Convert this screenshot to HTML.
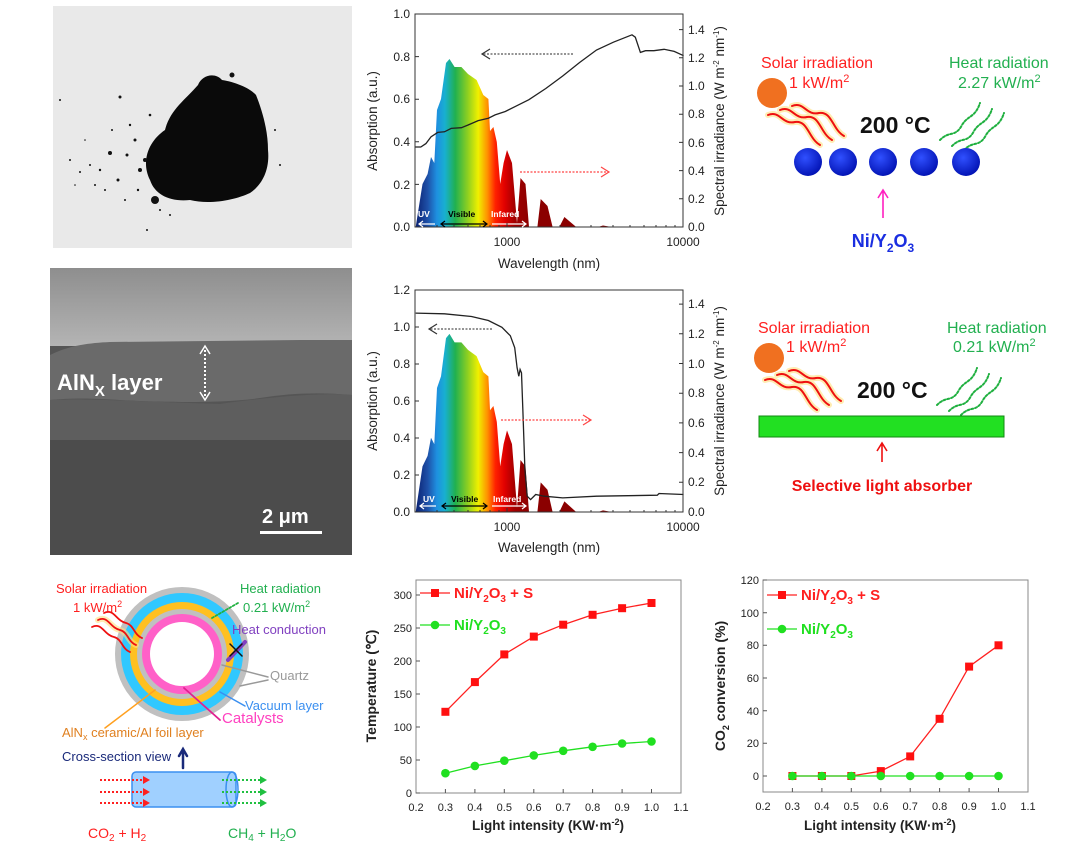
<!DOCTYPE html>
<html><head><meta charset="utf-8"><style>
html,body{margin:0;padding:0;background:#fff;}
svg{display:block;}
text{font-family:"Liberation Sans",sans-serif;}
</style></head><body>
<svg width="1080" height="846" viewBox="0 0 1080 846" xmlns="http://www.w3.org/2000/svg">
<defs>
<linearGradient id="spec" gradientUnits="userSpaceOnUse" x1="415" y1="0" x2="530" y2="0">
<stop offset="0" stop-color="#0a1f6e"/><stop offset="0.11" stop-color="#1e50a8"/><stop offset="0.19" stop-color="#1e90e0"/>
<stop offset="0.26" stop-color="#18b0d0"/><stop offset="0.35" stop-color="#20b050"/><stop offset="0.46" stop-color="#90d020"/>
<stop offset="0.55" stop-color="#f0f000"/><stop offset="0.63" stop-color="#ff9000"/><stop offset="0.70" stop-color="#ff2000"/>
<stop offset="0.78" stop-color="#e00000"/><stop offset="0.87" stop-color="#a00000"/><stop offset="1" stop-color="#8b0000"/>
</linearGradient>
<linearGradient id="semtop" x1="0" y1="0" x2="0" y2="1"><stop offset="0" stop-color="#8e8e8e"/><stop offset="1" stop-color="#b4b4b4"/></linearGradient>
<radialGradient id="ball" cx="0.4" cy="0.35" r="0.7"><stop offset="0" stop-color="#3050ff"/><stop offset="1" stop-color="#0010b0"/></radialGradient>
<path id="sp" d="M415.7,0 L422.5,-43 427.6,-53 431,-70 434.3,-64 437,-117 441,-128 446,-164 449.5,-168 454.6,-160 461.4,-160 468,-153 476.6,-147 483.3,-132 488.4,-128 490,-96 493.4,-100 496.8,-85 500.2,-43 503.6,-64 507,-77 512,-64 517,-4 520.5,-49 525.5,-43 529,0 537.4,0 540.7,-28 547.5,-21 552.6,0 559.3,0 564.4,-10 576.2,0 598,0 603,-1.5 611.7,0 Z"/>
</defs>

<!-- Photo -->
<rect x="53" y="6" width="299" height="242" fill="#e9e9e9"/>
<path d="M150,180 C140,160 150,140 165,130 C170,110 185,100 198,85 C202,75 215,72 222,80 C235,82 250,88 256,95 C262,110 268,130 268,150 C270,170 262,185 250,193 C235,200 210,205 190,200 C170,202 155,195 150,180 Z" fill="#0a0a0a"/>
<g fill="#111">
<circle cx="155" cy="200" r="4"/><circle cx="232" cy="75" r="2.5"/><circle cx="120" cy="97" r="1.5"/><circle cx="110" cy="153" r="2"/><circle cx="127" cy="155" r="1.5"/><circle cx="135" cy="140" r="1.5"/><circle cx="100" cy="170" r="1.2"/><circle cx="90" cy="165" r="1"/><circle cx="80" cy="172" r="1"/><circle cx="118" cy="180" r="1.5"/><circle cx="140" cy="170" r="2"/><circle cx="145" cy="160" r="2"/><circle cx="130" cy="125" r="1.2"/><circle cx="150" cy="115" r="1.3"/><circle cx="105" cy="190" r="1"/><circle cx="95" cy="185" r="1"/><circle cx="70" cy="160" r="1"/><circle cx="60" cy="100" r="1"/><circle cx="112" cy="130" r="1"/><circle cx="138" cy="190" r="1.2"/><circle cx="160" cy="210" r="1"/><circle cx="170" cy="215" r="1"/><circle cx="147" cy="230" r="1"/><circle cx="280" cy="165" r="1"/><circle cx="275" cy="130" r="1"/><circle cx="125" cy="200" r="1"/><circle cx="85" cy="140" r="0.8"/><circle cx="75" cy="185" r="0.8"/>
</g>

<!-- SEM -->
<rect x="50" y="268" width="302" height="287" fill="#555"/>
<rect x="50" y="268" width="302" height="78" fill="url(#semtop)"/>
<path d="M50,355 C70,345 90,343 110,342 L300,340 L352,340 L352,395 C320,392 290,393 260,398 C220,404 150,402 120,400 C90,398 70,398 50,400 Z" fill="#6a6a6a"/>
<path d="M50,400 C90,398 150,402 220,404 C260,398 320,392 352,395 L352,440 L50,440 Z" fill="#5e5e5e"/>
<rect x="50" y="440" width="302" height="115" fill="#4c4c4c"/>
<text x="57" y="390" fill="#fff" font-size="22" font-weight="bold">AlN<tspan font-size="15" dy="6">X</tspan><tspan dy="-6"> layer</tspan></text>
<line x1="205" y1="350" x2="205" y2="396" stroke="#fff" stroke-width="2" stroke-dasharray="2,2"/>
<path d="M200,354 L205,346 L210,354 M200,392 L205,400 L210,392" stroke="#fff" stroke-width="1.5" fill="none"/>
<text x="262" y="523" fill="#fff" font-size="20" font-weight="bold">2 μm</text>
<rect x="260" y="531" width="62" height="3" fill="#fff"/>

<!-- Top spectral chart -->
<g transform="translate(0,227)"><use href="#sp" fill="url(#spec)"/></g>
<polyline fill="none" stroke="#222" stroke-width="1.3" points="415,147 420.8,147 425.9,143.6 431,136.8 437.7,132.4 444.5,131.8 451.2,128.4 461.4,127.7 468.1,125 478.2,120.6 488.4,118.2 495.1,114.9 505.3,111.5 515.4,106.4 528.9,99.7 545.8,88.5 562.7,76 579.6,62.5 596.5,50 613.4,42.2 632,34.8 635.3,37.2 640.4,52.4 645.5,50.7 653.9,50.7 664.1,49.3 674.2,51.4 683.6,55.7"/>
<rect x="415" y="14" width="268" height="213" fill="none" stroke="#333" stroke-width="1"/>
<line x1="573" y1="54" x2="483" y2="54" stroke="#555" stroke-width="1.2" stroke-dasharray="2,1.5"/>
<path d="M490,49 L482,54 L490,59" fill="none" stroke="#333" stroke-width="1.2"/>
<line x1="520" y1="172" x2="608" y2="172" stroke="#f44" stroke-width="1.2" stroke-dasharray="2,1.5"/>
<path d="M601,167 L609,172 L601,177" fill="none" stroke="#f44" stroke-width="1.2"/>
<g font-size="8.5" font-weight="bold"><text x="418" y="217" fill="#fff">UV</text><text x="448" y="217" fill="#000">Visible</text><text x="491" y="217" fill="#fff">Infared</text></g>
<path d="M435,224 H420 M423,221 L419,224 L423,227" stroke="#fff" stroke-width="1.2" fill="none"/>
<path d="M442,224 H486 M445,221 L441,224 L445,227 M483,221 L487,224 L483,227" stroke="#000" stroke-width="1.2" fill="none"/>
<path d="M492,224 H525 M522,221 L526,224 L522,227" stroke="#fff" stroke-width="1.2" fill="none"/>
<g stroke="#333" stroke-width="1">
<path d="M415,227h4M415,184.4h4M415,141.8h4M415,99.2h4M415,56.6h4M415,14h4 M683,227h-4M683,198.8h-4M683,170.6h-4M683,142.4h-4M683,114.2h-4M683,86h-4M683,57.8h-4M683,29.6h-4 M507,227v-4M437,227v-2M454,227v-2M468,227v-2M480,227v-2M490,227v-2M499,227v-2M560,227v-2M591,227v-2M613,227v-2M630,227v-2M644,227v-2M656,227v-2M666,227v-2M675,227v-2"/>
</g>
<g font-size="12" fill="#222" text-anchor="end"><text x="410" y="231">0.0</text><text x="410" y="189">0.2</text><text x="410" y="146">0.4</text><text x="410" y="103">0.6</text><text x="410" y="61">0.8</text><text x="410" y="18">1.0</text></g>
<g font-size="12" fill="#222"><text x="688" y="231">0.0</text><text x="688" y="203">0.2</text><text x="688" y="175">0.4</text><text x="688" y="147">0.6</text><text x="688" y="118">0.8</text><text x="688" y="90">1.0</text><text x="688" y="62">1.2</text><text x="688" y="34">1.4</text></g>
<g font-size="12" fill="#222" text-anchor="middle"><text x="507" y="246">1000</text><text x="683" y="246">10000</text><text x="549" y="268" font-size="13.5">Wavelength (nm)</text></g>
<text transform="translate(377,121) rotate(-90)" text-anchor="middle" font-size="13.5" fill="#222">Absorption (a.u.)</text>
<text transform="translate(724,121) rotate(-90)" text-anchor="middle" font-size="13.5" fill="#222">Spectral irradiance (W m<tspan font-size="8" dy="-5">-2</tspan><tspan dy="5"> nm</tspan><tspan font-size="8" dy="-5">-1</tspan><tspan dy="5">)</tspan></text>

<!-- Middle spectral chart -->
<g transform="translate(0,512) scale(1,1.06)"><use href="#sp" fill="url(#spec)"/></g>
<polyline fill="none" stroke="#222" stroke-width="1.3" points="415.7,313.1 444.5,313.8 471.5,316.5 488.4,320.5 501.9,327.3 510.3,335.7 514.7,347.6 517.1,367.8 518.8,376.3 520.1,369.5 521.5,372.9 522.8,408.4 524.9,469.2 527.2,496.2 530.6,499.6 535.7,494.5 544.1,496.2 562.7,497.9 596.5,496.2 657.3,495.2 659,493.5 683.6,494.5"/>
<rect x="415" y="290" width="268" height="222" fill="none" stroke="#333" stroke-width="1"/>
<line x1="492" y1="329" x2="430" y2="329" stroke="#555" stroke-width="1.2" stroke-dasharray="2,1.5"/>
<path d="M437,324 L429,329 L437,334" fill="none" stroke="#333" stroke-width="1.2"/>
<line x1="501" y1="420" x2="590" y2="420" stroke="#f44" stroke-width="1.2" stroke-dasharray="2,1.5"/>
<path d="M583,415 L591,420 L583,425" fill="none" stroke="#f44" stroke-width="1.2"/>
<g font-size="8.5" font-weight="bold"><text x="423" y="502" fill="#fff">UV</text><text x="451" y="502" fill="#000">Visible</text><text x="493" y="502" fill="#fff">Infared</text></g>
<path d="M436,506 H421 M424,503 L420,506 L424,509" stroke="#fff" stroke-width="1.2" fill="none"/>
<path d="M443,506 H486 M446,503 L442,506 L446,509 M483,503 L487,506 L483,509" stroke="#000" stroke-width="1.2" fill="none"/>
<path d="M492,506 H525 M522,503 L526,506 L522,509" stroke="#fff" stroke-width="1.2" fill="none"/>
<g stroke="#333" stroke-width="1">
<path d="M415,512h4M415,475h4M415,438h4M415,401h4M415,364h4M415,327h4M415,290h4 M683,512h-4M683,482.3h-4M683,452.6h-4M683,422.9h-4M683,393.2h-4M683,363.5h-4M683,333.8h-4M683,304.1h-4 M507,512v-4M437,512v-2M454,512v-2M468,512v-2M480,512v-2M490,512v-2M499,512v-2M560,512v-2M591,512v-2M613,512v-2M630,512v-2M644,512v-2M656,512v-2M666,512v-2M675,512v-2"/>
</g>
<g font-size="12" fill="#222" text-anchor="end"><text x="410" y="516">0.0</text><text x="410" y="479">0.2</text><text x="410" y="442">0.4</text><text x="410" y="405">0.6</text><text x="410" y="368">0.8</text><text x="410" y="331">1.0</text><text x="410" y="294">1.2</text></g>
<g font-size="12" fill="#222"><text x="688" y="516">0.0</text><text x="688" y="486">0.2</text><text x="688" y="457">0.4</text><text x="688" y="427">0.6</text><text x="688" y="397">0.8</text><text x="688" y="368">1.0</text><text x="688" y="338">1.2</text><text x="688" y="308">1.4</text></g>
<g font-size="12" fill="#222" text-anchor="middle"><text x="507" y="531">1000</text><text x="683" y="531">10000</text><text x="549" y="552" font-size="13.5">Wavelength (nm)</text></g>
<text transform="translate(377,401) rotate(-90)" text-anchor="middle" font-size="13.5" fill="#222">Absorption (a.u.)</text>
<text transform="translate(724,401) rotate(-90)" text-anchor="middle" font-size="13.5" fill="#222">Spectral irradiance (W m<tspan font-size="8" dy="-5">-2</tspan><tspan dy="5"> nm</tspan><tspan font-size="8" dy="-5">-1</tspan><tspan dy="5">)</tspan></text>

<!-- Top-right schematic -->
<g font-size="16">
<text x="761" y="68" fill="#ff2020">Solar irradiation</text>
<text x="789" y="88" fill="#ff2020">1 kW/m<tspan font-size="11" dy="-6">2</tspan></text>
<text x="949" y="68" fill="#22b050">Heat radiation</text>
<text x="958" y="88" fill="#22b050">2.27 kW/m<tspan font-size="11" dy="-6">2</tspan></text>
<text x="758" y="333" fill="#ff2020">Solar irradiation</text>
<text x="786" y="352" fill="#ff2020">1 kW/m<tspan font-size="11" dy="-6">2</tspan></text>
<text x="947" y="333" fill="#22b050">Heat radiation</text>
<text x="953" y="352" fill="#22b050">0.21 kW/m<tspan font-size="11" dy="-6">2</tspan></text>
</g>
<circle cx="772" cy="93" r="15" fill="#f07020"/>
<circle cx="769" cy="358" r="15" fill="#f07020"/>
<g fill="none" stroke-linecap="round">
<g stroke="#ffe080" stroke-width="6" opacity="0.6">
<path d="M768,115 C780,110 782,125 795,122 C808,120 808,138 820,145"/><path d="M780,110 C792,105 794,120 807,117 C820,115 820,133 832,140"/><path d="M792,106 C804,101 806,116 819,113 C832,111 832,129 844,136"/>
<path d="M765,380 C777,375 779,390 792,387 C805,385 805,403 817,410"/><path d="M777,375 C789,370 791,385 804,382 C817,380 817,398 829,405"/><path d="M789,371 C801,366 803,381 816,378 C829,376 829,394 841,401"/>
</g>
<g stroke="#ee1010" stroke-width="2">
<path d="M768,115 C780,110 782,125 795,122 C808,120 808,138 820,145"/><path d="M780,110 C792,105 794,120 807,117 C820,115 820,133 832,140"/><path d="M792,106 C804,101 806,116 819,113 C832,111 832,129 844,136"/>
<path d="M765,380 C777,375 779,390 792,387 C805,385 805,403 817,410"/><path d="M777,375 C789,370 791,385 804,382 C817,380 817,398 829,405"/><path d="M789,371 C801,366 803,381 816,378 C829,376 829,394 841,401"/>
</g>
<g stroke="#20b040" stroke-width="2" stroke-dasharray="2,2">
<path d="M940,140 C950,130 955,138 962,125 C968,115 975,118 980,103"/><path d="M952,146 C962,136 967,144 974,131 C980,121 987,124 992,109"/><path d="M964,150 C974,140 979,148 986,135 C992,125 999,128 1004,113"/>
<path d="M937,405 C947,395 952,403 959,390 C965,380 972,383 977,368"/><path d="M949,411 C959,401 964,409 971,396 C977,386 984,389 989,374"/><path d="M961,415 C971,405 976,413 983,400 C989,390 996,393 1001,378"/>
</g>
</g>
<g font-family="Liberation Serif,serif" font-weight="bold" font-size="23" fill="#111"><text x="860" y="133" font-family="Liberation Serif,serif">200 °C</text><text x="857" y="398" font-family="Liberation Serif,serif">200 °C</text></g>
<g fill="url(#ball)"><circle cx="808" cy="162" r="14"/><circle cx="843" cy="162" r="14"/><circle cx="883" cy="162" r="14"/><circle cx="924" cy="162" r="14"/><circle cx="966" cy="162" r="14"/></g>
<path d="M883,218 V191 M878,198 L883,190 L888,198" stroke="#ff20c0" stroke-width="1.6" fill="none"/>
<text x="883" y="247" text-anchor="middle" font-size="18" font-weight="bold" fill="#1a2ee0">Ni/Y<tspan font-size="12" dy="5">2</tspan><tspan dy="-5">O</tspan><tspan font-size="12" dy="5">3</tspan></text>
<rect x="759" y="416" width="245" height="21" fill="#22e022" stroke="#118811" stroke-width="1"/>
<path d="M882,462 V444 M877,451 L882,443 L887,451" stroke="#ee1010" stroke-width="1.6" fill="none"/>
<text x="882" y="491" text-anchor="middle" font-size="16" font-weight="bold" fill="#ee1010">Selective light absorber</text>

<!-- Bottom-left diagram -->
<circle cx="182" cy="654" r="67" fill="#c0c0c0"/>
<circle cx="182" cy="654" r="61" fill="#30c8ff"/>
<circle cx="182" cy="654" r="52" fill="#ffc020"/>
<circle cx="182" cy="654" r="45" fill="#c0c0c0"/>
<circle cx="182" cy="654" r="40" fill="#ff60c8"/>
<circle cx="182" cy="654" r="32" fill="#fff"/>
<g font-size="13">
<text x="56" y="593" fill="#ff2020">Solar irradiation</text>
<text x="73" y="612" fill="#ff2020">1 kW/m<tspan font-size="9" dy="-5">2</tspan></text>
<text x="240" y="593" fill="#22b050">Heat radiation</text>
<text x="243" y="612" fill="#22b050">0.21 kW/m<tspan font-size="9" dy="-5">2</tspan></text>
<text x="232" y="634" fill="#8040c0">Heat conduction</text>
<text x="270" y="680" fill="#999">Quartz</text>
<text x="245" y="710" fill="#3a8ff0">Vacuum layer</text>
<text x="222" y="723" fill="#ff40c0" font-size="15">Catalysts</text>
<text x="62" y="737" fill="#e08020">AlN<tspan font-size="9" dy="3">x</tspan><tspan dy="-3"> ceramic/Al foil layer</tspan></text>
<text x="62" y="761" fill="#1a2a7a">Cross-section view</text>
<text x="88" y="838" fill="#ff2020" font-size="14">CO<tspan font-size="10" dy="3">2</tspan><tspan dy="-3"> + H</tspan><tspan font-size="10" dy="3">2</tspan></text>
<text x="228" y="838" fill="#22b050" font-size="14">CH<tspan font-size="10" dy="3">4</tspan><tspan dy="-3"> + H</tspan><tspan font-size="10" dy="3">2</tspan><tspan dy="-3">O</tspan></text>
</g>
<g fill="none" stroke-linecap="round">
<path d="M98,620 C108,615 110,628 120,630 C128,632 128,642 136,645" stroke="#ffe080" stroke-width="6" opacity="0.6"/>
<path d="M98,620 C108,615 110,628 120,630 C128,632 128,642 136,645 M104,613 C114,608 116,621 126,623 C134,625 134,635 142,638 M92,627 C102,622 104,635 114,637 C122,639 122,649 130,652" stroke="#ee1010" stroke-width="1.8"/>
<path d="M212,618 L238,603" stroke="#20b040" stroke-width="1.8" stroke-dasharray="2,2"/>
<path d="M228,660 L245,642" stroke="#8040c0" stroke-width="4"/>
<path d="M230,644 L242,656 M242,644 L230,656" stroke="#111" stroke-width="1.5"/>
<path d="M268,677 L222,665 M268,680 L240,686" stroke="#999" stroke-width="1.5"/>
<path d="M245,706 L220,692" stroke="#3a8ff0" stroke-width="1.5"/>
<path d="M220,720 L184,688" stroke="#e02090" stroke-width="1.8"/>
<path d="M105,728 L155,690" stroke="#ffa020" stroke-width="1.5"/>
<path d="M183,768 V750 M179,756 L183,749 L187,756" stroke="#1a2a7a" stroke-width="2.5"/>
</g>
<rect x="132" y="772" width="104" height="35" rx="4" fill="#a0d0ff" stroke="#3a8ff0" stroke-width="1.5"/>
<ellipse cx="232" cy="789.5" rx="6" ry="17.5" fill="none" stroke="#3a8ff0" stroke-width="1.5"/>
<g stroke-width="2" stroke-dasharray="2,2" fill="none">
<path d="M100,780 H143 M100,792 H143 M100,803 H143" stroke="#ff2020"/>
<path d="M222,780 H260 M222,792 H260 M222,803 H260" stroke="#20c040"/>
</g>
<g fill="#ff2020"><path d="M143,776 L150,780 L143,784Z M143,788 L150,792 L143,796Z M143,799 L150,803 L143,807Z"/></g>
<g fill="#20c040"><path d="M260,776 L267,780 L260,784Z M260,788 L267,792 L260,796Z M260,799 L267,803 L260,807Z"/></g>

<!-- Bottom chart 1: Temperature -->
<rect x="416" y="580" width="265" height="213" fill="none" stroke="#888" stroke-width="1"/>
<g stroke="#555" stroke-width="1"><path d="M416,793h4M416,760h4M416,727h4M416,694h4M416,661h4M416,628h4M416,595h4 M445.4,793v-4M474.9,793v-4M504.3,793v-4M533.8,793v-4M563.2,793v-4M592.6,793v-4M622.1,793v-4M651.5,793v-4"/></g>
<g font-size="11" fill="#222" text-anchor="end"><text x="412" y="797">0</text><text x="412" y="764">50</text><text x="412" y="731">100</text><text x="412" y="698">150</text><text x="412" y="665">200</text><text x="412" y="632">250</text><text x="412" y="599">300</text></g>
<g font-size="11" fill="#222" text-anchor="middle"><text x="416" y="811">0.2</text><text x="445.4" y="811">0.3</text><text x="474.9" y="811">0.4</text><text x="504.3" y="811">0.5</text><text x="533.8" y="811">0.6</text><text x="563.2" y="811">0.7</text><text x="592.6" y="811">0.8</text><text x="622.1" y="811">0.9</text><text x="651.5" y="811">1.0</text><text x="681" y="811">1.1</text></g>
<text x="548" y="830" text-anchor="middle" font-size="13.5" font-weight="bold" fill="#222">Light intensity (KW·m<tspan font-size="9" dy="-5">-2</tspan><tspan dy="5">)</tspan></text>
<text transform="translate(376,686) rotate(-90)" text-anchor="middle" font-size="14" font-weight="bold" fill="#222">Temperature (℃)</text>
<polyline fill="none" stroke="#ff2020" stroke-width="1.3" points="445.4,711.8 474.9,682.1 504.3,654.4 533.8,636.6 563.2,624.7 592.6,614.8 622.1,608.2 651.5,603"/>
<g fill="#ff1010"><rect x="441.4" y="707.8" width="8" height="8"/><rect x="470.9" y="678.1" width="8" height="8"/><rect x="500.3" y="650.4" width="8" height="8"/><rect x="529.8" y="632.6" width="8" height="8"/><rect x="559.2" y="620.7" width="8" height="8"/><rect x="588.6" y="610.8" width="8" height="8"/><rect x="618.1" y="604.2" width="8" height="8"/><rect x="647.5" y="599" width="8" height="8"/></g>
<polyline fill="none" stroke="#20e020" stroke-width="1.3" points="445.4,773.2 474.9,765.9 504.3,760.7 533.8,755.4 563.2,750.8 592.6,746.8 622.1,743.5 651.5,741.5"/>
<g fill="#20e020"><circle cx="445.4" cy="773.2" r="4.3"/><circle cx="474.9" cy="765.9" r="4.3"/><circle cx="504.3" cy="760.7" r="4.3"/><circle cx="533.8" cy="755.4" r="4.3"/><circle cx="563.2" cy="750.8" r="4.3"/><circle cx="592.6" cy="746.8" r="4.3"/><circle cx="622.1" cy="743.5" r="4.3"/><circle cx="651.5" cy="741.5" r="4.3"/></g>
<path d="M420,593 H450" stroke="#ff2020" stroke-width="1.3"/><rect x="431" y="589" width="8" height="8" fill="#ff1010"/>
<text x="454" y="598" font-size="15" font-weight="bold" fill="#ff2020">Ni/Y<tspan font-size="10" dy="4">2</tspan><tspan dy="-4">O</tspan><tspan font-size="10" dy="4">3</tspan><tspan dy="-4"> + S</tspan></text>
<path d="M420,625 H450" stroke="#20e020" stroke-width="1.3"/><circle cx="435" cy="625" r="4.3" fill="#20e020"/>
<text x="454" y="630" font-size="15" font-weight="bold" fill="#20e020">Ni/Y<tspan font-size="10" dy="4">2</tspan><tspan dy="-4">O</tspan><tspan font-size="10" dy="4">3</tspan></text>

<!-- Bottom chart 2: CO2 conversion -->
<rect x="763" y="580" width="265" height="212" fill="none" stroke="#888" stroke-width="1"/>
<g stroke="#555" stroke-width="1"><path d="M763,776h4M763,743.3h4M763,710.7h4M763,678h4M763,645.3h4M763,612.7h4M763,580h4 M792.4,792v-4M821.9,792v-4M851.3,792v-4M880.8,792v-4M910.2,792v-4M939.6,792v-4M969.1,792v-4M998.5,792v-4"/></g>
<g font-size="11" fill="#222" text-anchor="end"><text x="759" y="780">0</text><text x="759" y="747">20</text><text x="759" y="715">40</text><text x="759" y="682">60</text><text x="759" y="649">80</text><text x="759" y="617">100</text><text x="759" y="584">120</text></g>
<g font-size="11" fill="#222" text-anchor="middle"><text x="763" y="810">0.2</text><text x="792.4" y="810">0.3</text><text x="821.9" y="810">0.4</text><text x="851.3" y="810">0.5</text><text x="880.8" y="810">0.6</text><text x="910.2" y="810">0.7</text><text x="939.6" y="810">0.8</text><text x="969.1" y="810">0.9</text><text x="998.5" y="810">1.0</text><text x="1028" y="810">1.1</text></g>
<text x="880" y="830" text-anchor="middle" font-size="13.5" font-weight="bold" fill="#222">Light intensity (KW·m<tspan font-size="9" dy="-5">-2</tspan><tspan dy="5">)</tspan></text>
<text transform="translate(725,686) rotate(-90)" text-anchor="middle" font-size="14" font-weight="bold" fill="#222">CO<tspan font-size="9" dy="4">2</tspan><tspan dy="-4"> conversion (%)</tspan></text>
<polyline fill="none" stroke="#ff2020" stroke-width="1.3" points="792.4,776 821.9,776 851.3,776 880.8,771.1 910.2,756.4 939.6,718.8 969.1,666.6 998.5,645.3"/>
<g fill="#ff1010"><rect x="788.4" y="772" width="8" height="8"/><rect x="817.9" y="772" width="8" height="8"/><rect x="847.3" y="772" width="8" height="8"/><rect x="876.8" y="767.1" width="8" height="8"/><rect x="906.2" y="752.4" width="8" height="8"/><rect x="935.6" y="714.8" width="8" height="8"/><rect x="965.1" y="662.6" width="8" height="8"/><rect x="994.5" y="641.3" width="8" height="8"/></g>
<polyline fill="none" stroke="#20e020" stroke-width="1.3" points="792.4,776 998.5,776"/>
<g fill="#20e020"><circle cx="792.4" cy="776" r="4.3"/><circle cx="821.9" cy="776" r="4.3"/><circle cx="851.3" cy="776" r="4.3"/><circle cx="880.8" cy="776" r="4.3"/><circle cx="910.2" cy="776" r="4.3"/><circle cx="939.6" cy="776" r="4.3"/><circle cx="969.1" cy="776" r="4.3"/><circle cx="998.5" cy="776" r="4.3"/></g>
<path d="M767,595 H797" stroke="#ff2020" stroke-width="1.3"/><rect x="778" y="591" width="8" height="8" fill="#ff1010"/>
<text x="801" y="600" font-size="15" font-weight="bold" fill="#ff2020">Ni/Y<tspan font-size="10" dy="4">2</tspan><tspan dy="-4">O</tspan><tspan font-size="10" dy="4">3</tspan><tspan dy="-4"> + S</tspan></text>
<path d="M767,629 H797" stroke="#20e020" stroke-width="1.3"/><circle cx="782" cy="629" r="4.3" fill="#20e020"/>
<text x="801" y="634" font-size="15" font-weight="bold" fill="#20e020">Ni/Y<tspan font-size="10" dy="4">2</tspan><tspan dy="-4">O</tspan><tspan font-size="10" dy="4">3</tspan></text>
</svg>
</body></html>
